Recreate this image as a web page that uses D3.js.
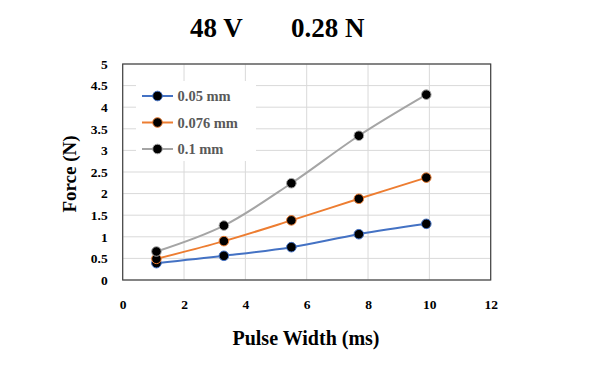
<!DOCTYPE html>
<html><head><meta charset="utf-8">
<script src="https://cdn.jsdelivr.net/npm/d3@7"></script>
<style>body{margin:0;background:#fff}svg{display:block}</style>
</head><body>
<script>
const titleParts = ["48 V", "0.28 N"];
const xLabel = "Pulse Width (ms)";
const yLabel = "Force (N)";
const pulseWidth = [1.1, 3.3, 5.5, 7.7, 9.9];
const seriesNames = ["0.05 mm", "0.076 mm", "0.1 mm"];
const seriesColors = ["#4472C4", "#ED7D31", "#A5A5A5"];
const force005 = [0.39, 0.56, 0.76, 1.06, 1.30];
const force0076 = [0.49, 0.90, 1.38, 1.88, 2.37];
const force01 = [0.66, 1.26, 2.24, 3.34, 4.29];
const xTicks = [0, 2, 4, 6, 8, 10, 12];
const yTicks = [0, 0.5, 1, 1.5, 2, 2.5, 3, 3.5, 4, 4.5, 5];

const W = 609, H = 368;
const m = {left: 122.7, right: 490.7, top: 64, bottom: 280};
const font = "'Liberation Serif', 'Times New Roman', serif";
const svg = d3.select("body").append("svg").attr("width", W).attr("height", H);
const x = d3.scaleLinear().domain([0, 12]).range([m.left, m.right]);
const y = d3.scaleLinear().domain([0, 5]).range([m.bottom, m.top]);

// gridlines
svg.append("g").selectAll("line").data(yTicks).join("line")
  .attr("x1", m.left).attr("x2", m.right).attr("y1", d => y(d)).attr("y2", d => y(d))
  .attr("stroke", "#d9d9d9").attr("stroke-width", 1);
svg.append("g").selectAll("line").data(xTicks).join("line")
  .attr("y1", m.top).attr("y2", m.bottom).attr("x1", d => x(d)).attr("x2", d => x(d))
  .attr("stroke", "#d9d9d9").attr("stroke-width", 1);

// legend background
svg.append("rect").attr("x", 136).attr("y", 81).attr("width", 120).attr("height", 80).attr("fill", "#fff");

// border
svg.append("rect").attr("x", m.left).attr("y", m.top).attr("width", m.right - m.left).attr("height", m.bottom - m.top)
  .attr("fill", "none").attr("stroke", "#404040").attr("stroke-width", 1.2);

// axes (labels only)
const xAxis = d3.axisBottom(x).tickValues(xTicks).tickSize(0).tickPadding(19).tickFormat(d3.format("d"));
const gx = svg.append("g").attr("transform", `translate(0,${m.bottom})`).call(xAxis);
const yAxis = d3.axisLeft(y).tickValues(yTicks).tickSize(0).tickPadding(15).tickFormat(d => String(d));
const gy = svg.append("g").attr("transform", `translate(${m.left},0)`).call(yAxis);
[gx, gy].forEach(g => {
  g.select(".domain").remove();
  g.selectAll("text").attr("font-family", font).attr("font-weight", "bold").attr("font-size", 13.5).attr("fill", "#000");
});

// series
const allSeries = [force005, force0076, force01];
const line = d3.line().x((d, i) => x(pulseWidth[i])).y(d => y(d)).curve(d3.curveCatmullRom.alpha(0.5));
allSeries.forEach((vals, s) => {
  svg.append("path").datum(vals).attr("d", line).attr("fill", "none")
    .attr("stroke", seriesColors[s]).attr("stroke-width", 2);
});
allSeries.forEach((vals, s) => {
  svg.append("g").selectAll("circle").data(vals).join("circle")
    .attr("cx", (d, i) => x(pulseWidth[i])).attr("cy", d => y(d)).attr("r", 4.8)
    .attr("fill", "#000").attr("stroke", seriesColors[s]).attr("stroke-width", 1);
});

// legend
seriesNames.forEach((name, s) => {
  const ly = 96 + s * 26.5;
  svg.append("line").attr("x1", 142).attr("x2", 173).attr("y1", ly).attr("y2", ly)
    .attr("stroke", seriesColors[s]).attr("stroke-width", 2);
  svg.append("circle").attr("cx", 157.5).attr("cy", ly).attr("r", 4.8)
    .attr("fill", "#000").attr("stroke", seriesColors[s]).attr("stroke-width", 1);
  svg.append("text").attr("x", 177.5).attr("y", ly).attr("dy", "0.35em")
    .attr("font-family", font).attr("font-weight", "bold").attr("font-size", 14.5).attr("fill", "#595959")
    .text(name);
});

// titles
const titleX = [190, 291];
titleParts.forEach((t, i) => {
  svg.append("text").attr("x", titleX[i]).attr("y", 37)
    .attr("font-family", font).attr("font-weight", "bold").attr("font-size", 27).attr("fill", "#000")
    .text(t);
});
svg.append("text").attr("x", 306).attr("y", 345).attr("text-anchor", "middle")
  .attr("font-family", font).attr("font-weight", "bold").attr("font-size", 20).attr("fill", "#000")
  .text(xLabel);
svg.append("text").attr("transform", `translate(76,${174}) rotate(-90)`).attr("text-anchor", "middle")
  .attr("font-family", font).attr("font-weight", "bold").attr("font-size", 19).attr("fill", "#000")
  .text(yLabel);
</script>
</body></html>
